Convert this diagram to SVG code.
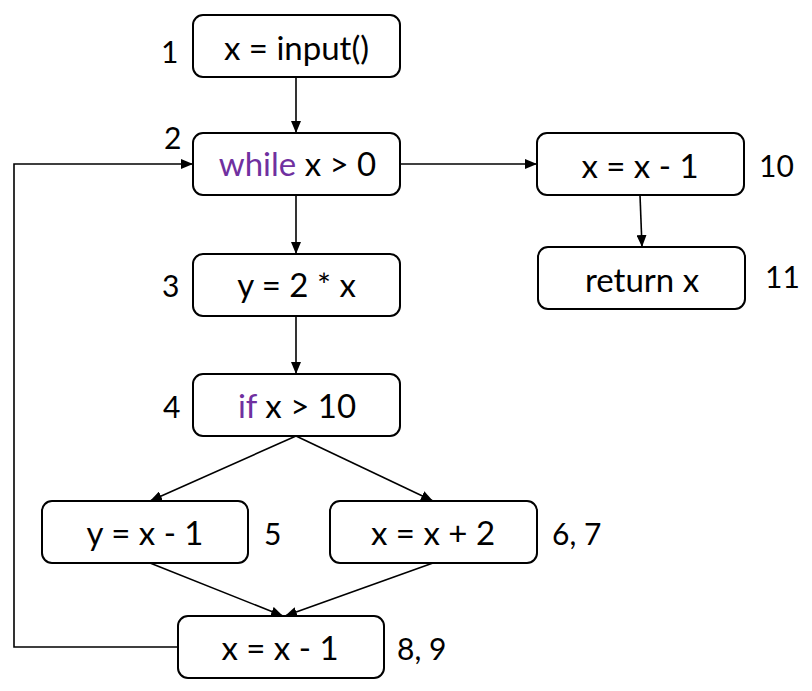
<svg xmlns="http://www.w3.org/2000/svg" width="812" height="691" viewBox="0 0 812 691">
<defs>
<marker id="ah" markerWidth="12" markerHeight="10" refX="12" refY="5" orient="auto" markerUnits="userSpaceOnUse">
<path d="M0,0 L12,5 L0,10 Z" fill="#000"/>
</marker>
<style>
.box{fill:#fff;stroke:#000;stroke-width:2}
.t{font-family:Lato,"Open Sans","Liberation Sans",sans-serif;font-size:33px;fill:#000;text-anchor:middle}
.n{font-family:Lato,"Open Sans","Liberation Sans",sans-serif;font-size:30px;fill:#000}
.kw{fill:#7030A0}
.c{fill:none;stroke:#000;stroke-width:1.6;marker-end:url(#ah)}
</style>
</defs>
<g id="connectors">
<path class="c" d="M296,77 L296,133"/>
<path class="c" d="M296,195 L296,254"/>
<path class="c" d="M296,316 L296,374"/>
<path class="c" d="M400,164 L537,164"/>
<path class="c" d="M640,195 L642,247"/>
<path class="c" d="M296,436 L150,501"/>
<path class="c" d="M296,436 L433,501"/>
<path class="c" d="M150,563 L283,616"/>
<path class="c" d="M433,563 L285,616"/>
<path class="c" d="M178,647 L14,647 L14,164 L193,164"/>
</g>
<g id="n1">
<rect class="box" x="193" y="15" width="207" height="62" rx="10"/>
<text class="t" x="296.5" y="60">x = input()</text>
<text class="n" x="161" y="63">1</text>
</g>
<g id="n2">
<rect class="box" x="193" y="133" width="207" height="62" rx="10"/>
<text class="t" x="297.5" y="176"><tspan class="kw">while</tspan> x &gt; 0</text>
<text class="n" x="164" y="149">2</text>
</g>
<g id="n3">
<rect class="box" x="193" y="254" width="207" height="62" rx="10"/>
<text class="t" x="296.5" y="297">y = 2 * x</text>
<text class="n" x="162" y="297">3</text>
</g>
<g id="n4">
<rect class="box" x="193" y="374" width="207" height="62" rx="10"/>
<text class="t" x="297" y="418"><tspan class="kw">if</tspan> x &gt; 10</text>
<text class="n" x="163" y="418">4</text>
</g>
<g id="n5">
<rect class="box" x="42" y="501" width="206" height="62" rx="10"/>
<text class="t" x="145" y="545">y = x - 1</text>
<text class="n" x="264" y="545">5</text>
</g>
<g id="n67">
<rect class="box" x="330" y="501" width="207" height="62" rx="10"/>
<text class="t" x="433" y="545">x = x + 2</text>
<text class="n" x="552" y="545">6, 7</text>
</g>
<g id="n89">
<rect class="box" x="178" y="616" width="206" height="62" rx="10"/>
<text class="t" x="280" y="660">x = x - 1</text>
<text class="n" x="397" y="660">8, 9</text>
</g>
<g id="n10">
<rect class="box" x="537" y="133" width="207" height="62" rx="10"/>
<text class="t" x="640" y="178">x = x - 1</text>
<text class="n" x="759" y="177">10</text>
</g>
<g id="n11">
<rect class="box" x="538" y="247" width="207" height="62" rx="10"/>
<text class="t" x="642" y="292">return x</text>
<text class="n" x="765" y="288">11</text>
</g>
</svg>
